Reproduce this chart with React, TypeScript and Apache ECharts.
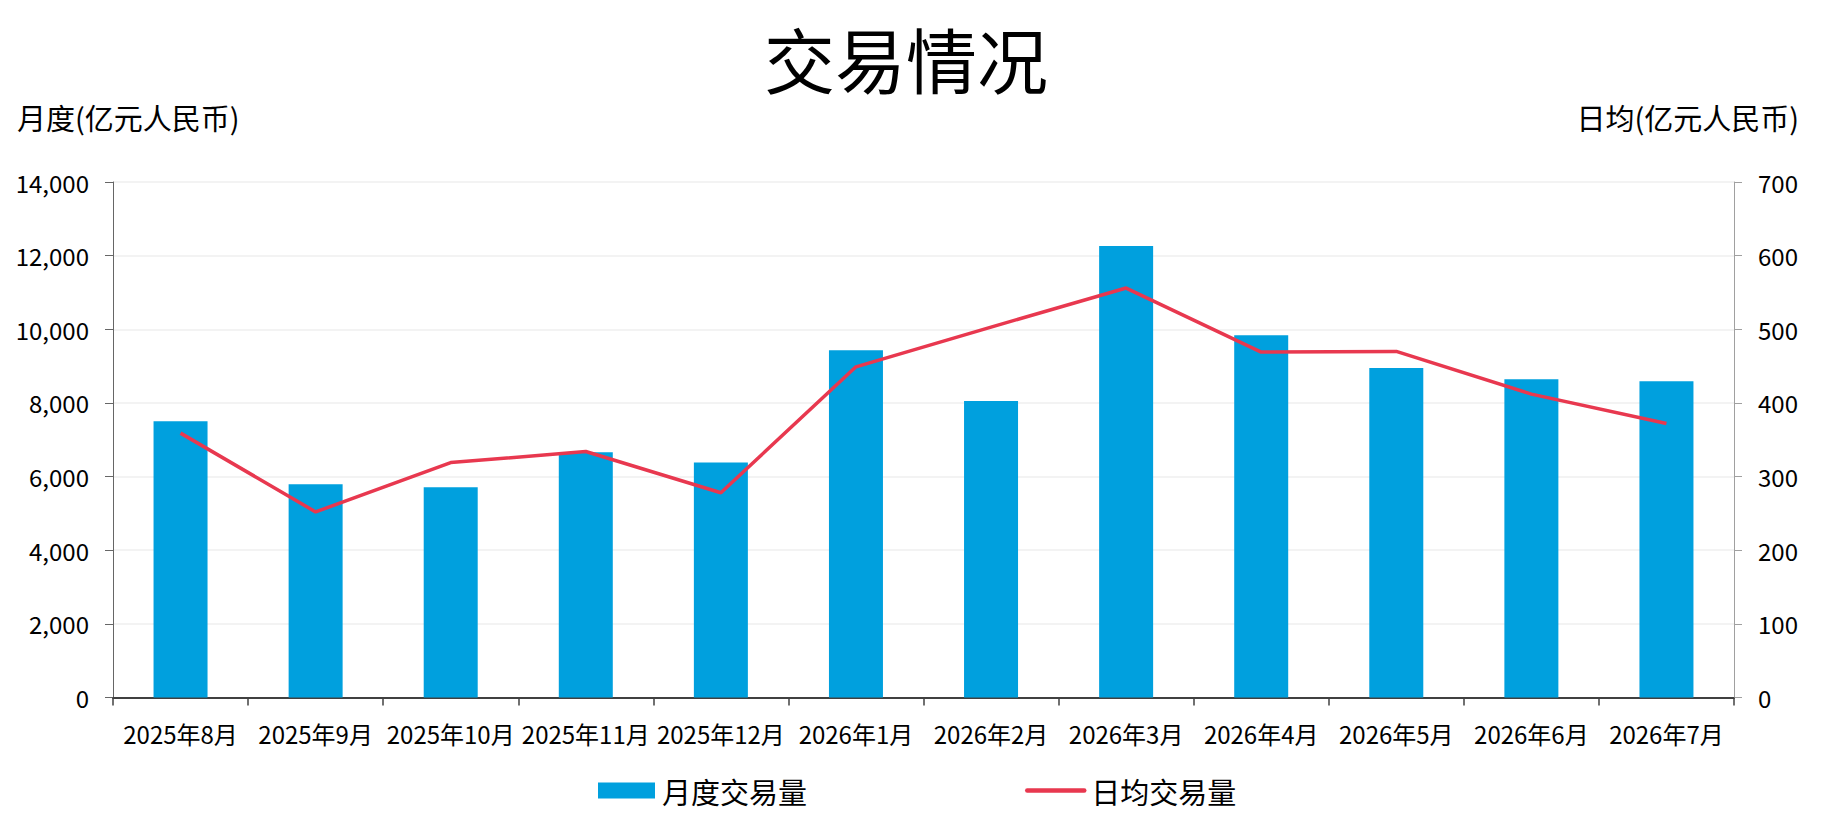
import React, { useEffect, useRef } from "react";
import * as echarts from "echarts";

const categories = [
  "2025年8月", "2025年9月", "2025年10月", "2025年11月", "2025年12月", "2026年1月",
  "2026年2月", "2026年3月", "2026年4月", "2026年5月", "2026年6月", "2026年7月",
];
const monthlyVolume = [7500, 5790, 5710, 6660, 6380, 9430, 8050, 12260, 9840, 8950, 8640, 8590];
const dailyAverage = [359, 252, 319, 334, 278, 449, 503, 556, 469, 470, 412, 372];
const leftTicks = { min: 0, max: 14000, interval: 2000 };
const rightTicks = { min: 0, max: 700, interval: 100 };

const FONT = "'Noto Sans CJK SC', 'Noto Sans', sans-serif";

export default function App() {
  const ref = useRef<HTMLDivElement>(null);
  useEffect(() => {
    document.body.style.margin = "0";
    const chart = echarts.init(ref.current!, null, { renderer: "svg" });
    chart.setOption({
      animation: false,
      backgroundColor: "#ffffff",
      textStyle: { fontFamily: FONT },
      graphic: [
        {
          type: "text", x: 906, y: 57,
          style: { text: "交易情况", fontSize: 71, fontFamily: FONT, fill: "#000", align: "center", verticalAlign: "middle" },
        },
        {
          type: "text", x: 17, y: 117,
          style: { text: "月度(亿元人民币)", fontSize: 29, fontFamily: FONT, fill: "#000", align: "left", verticalAlign: "middle" },
        },
        {
          type: "text", x: 1799, y: 117,
          style: { text: "日均(亿元人民币)", fontSize: 29, fontFamily: FONT, fill: "#000", align: "right", verticalAlign: "middle" },
        },
      ],
      legend: {
        left: 598, top: 776, padding: 0,
        itemWidth: 57, itemHeight: 16, itemGap: 218,
        textStyle: { fontSize: 29, color: "#000", fontFamily: FONT, padding: [0, 0, 0, 2] },
        data: [
          { name: "月度交易量", icon: "rect" },
          {
            name: "日均交易量",
            itemStyle: { opacity: 0 },
            lineStyle: { width: 4.5, color: "#E8384F", cap: "round" },
          },
        ],
      },
      grid: { left: 113, right: 90, top: 182, bottom: 140.5, containLabel: false },
      xAxis: {
        type: "category",
        data: categories,
        boundaryGap: true,
        axisLine: { show: true, lineStyle: { color: "#404040", width: 2 } },
        axisTick: { show: true, alignWithLabel: false, length: 8, lineStyle: { color: "#404040", width: 1.5 } },
        axisLabel: { interval: 0, fontSize: 24, color: "#000", margin: 24, fontFamily: FONT },
      },
      yAxis: [
        {
          type: "value", ...leftTicks,
          axisLine: { show: true, lineStyle: { color: "#666", width: 1 } },
          axisTick: { show: true, length: 8, lineStyle: { color: "#666", width: 1 } },
          axisLabel: {
            fontSize: 24, color: "#000", margin: 24, fontFamily: FONT,
            formatter: (v: number) => v.toLocaleString("en-US"),
          },
          splitLine: { show: true, lineStyle: { color: "#efefef", width: 1.5 } },
        },
        {
          type: "value", ...rightTicks, position: "right",
          axisLine: { show: true, lineStyle: { color: "#a0a0a0", width: 1 } },
          axisTick: { show: true, length: 8, lineStyle: { color: "#a0a0a0", width: 1 } },
          axisLabel: { fontSize: 24, color: "#000", margin: 24, fontFamily: FONT },
          splitLine: { show: false },
        },
      ],
      series: [
        {
          name: "月度交易量", type: "bar", yAxisIndex: 0,
          data: monthlyVolume, barWidth: 54,
          itemStyle: { color: "#00A0DE" },
        },
        {
          name: "日均交易量", type: "line", yAxisIndex: 1,
          data: dailyAverage, symbol: "none", smooth: false,
          lineStyle: { color: "#E8384F", width: 3.5 },
          itemStyle: { color: "#E8384F" },
        },
      ],
    });
    return () => chart.dispose();
  }, []);
  return <div ref={ref} style={{ position: "fixed", left: 0, top: 0, width: 1824, height: 838 }} />;
}
